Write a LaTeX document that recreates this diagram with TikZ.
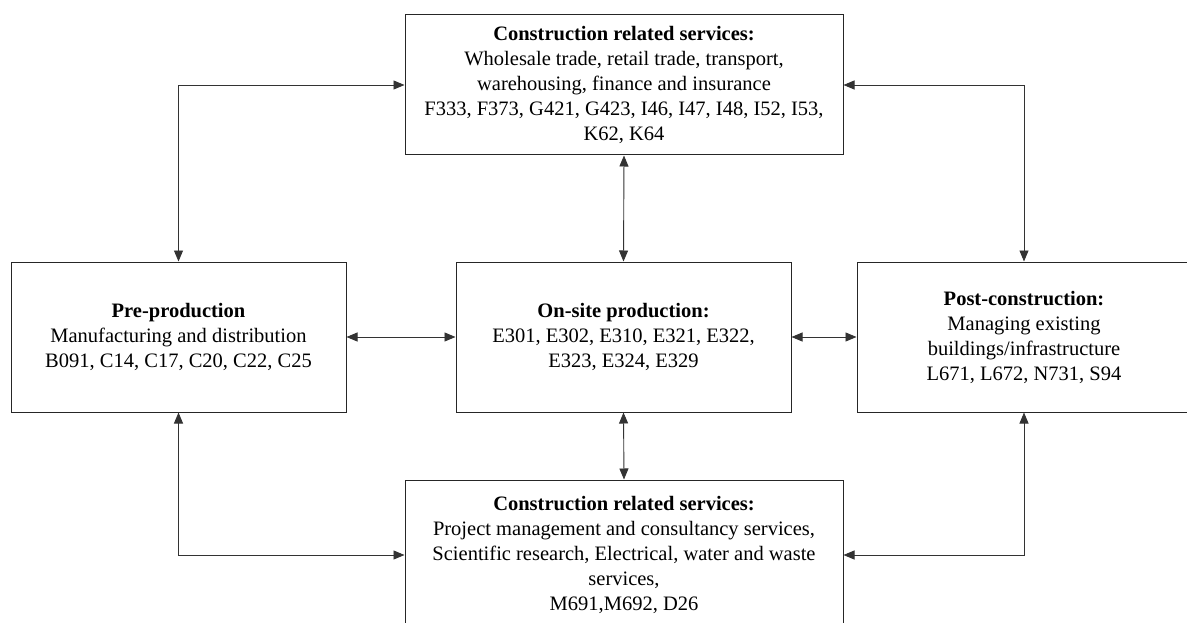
\documentclass[tikz,border=0pt]{standalone}
\usepackage{fontspec}
\setmainfont{Liberation Serif}
\usetikzlibrary{arrows.meta}

\begin{document}
\begin{tikzpicture}[x = 1pt, y = 1pt,
    box/.style = {draw = black!85, line width = 1pt, align = center, inner sep = 0pt, font = \fontsize{20.5}{25}\selectfont},
    link/.style = {draw = black!80, line width = 0.9pt, {Triangle[length = 11pt, width = 9pt]}-{Triangle[length = 11pt, width = 9pt]}}]
    \useasboundingbox (0,0) rectangle (1187,-623);
    \node[box, minimum width = 438pt, minimum height = 140pt] (top) at (624,-85) {\textbf{Construction related services:}\\
        Wholesale trade, retail trade, transport,\\ warehousing, finance and insurance\\
        F333, F373, G421, G423, I46, I47, I48, I52, I53,\\ K62, K64};
    \node[box, minimum width = 335pt, minimum height = 150pt] (pre) at (178.5,-337) {\textbf{Pre-production}\\
        Manufacturing and distribution\\ B091, C14, C17, C20, C22, C25};
    \node[box, minimum width = 335pt, minimum height = 150pt] (onsite) at (623.5,-337) {\textbf{On-site production:}\\
        E301, E302, E310, E321, E322,\\ E323, E324, E329};
    \node[box, minimum width = 334pt, minimum height = 150pt] (post) at (1024,-337) {\textbf{Post-construction:}\\
        Managing existing\\ buildings/infrastructure\\ L671, L672, N731, S94};
    \node[box, minimum width = 438pt, minimum height = 150pt] (bottom) at (624,-555) {\textbf{Construction related services:}\\
        Project management and consultancy services,\\ Scientific research, Electrical, water and waste\\
        services,\\ M691,M692, D26};
    \draw[link] (top.west) -| (pre.north);
    \draw[link] (top.east) -| (post.north);
    \draw[link] (top.south) -- (onsite.north);
    \draw[link] (pre.east) -- (onsite.west);
    \draw[link] (onsite.east) -- (post.west);
    \draw[link] (onsite.south) -- (bottom.north);
    \draw[link] (pre.south) |- (bottom.west);
    \draw[link] (post.south) |- (bottom.east);
\end{tikzpicture}
\end{document}
